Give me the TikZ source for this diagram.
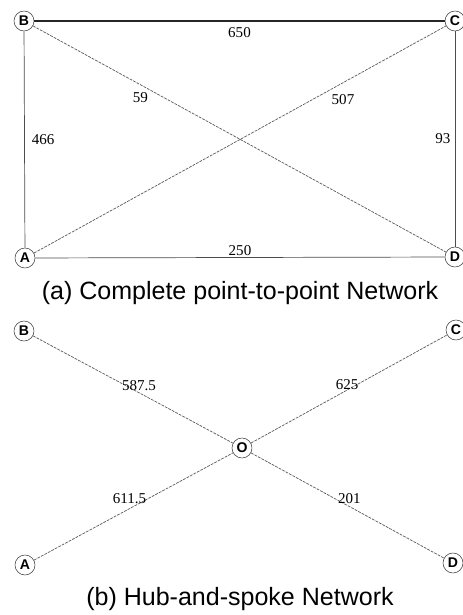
\documentclass[tikz,border=0pt]{standalone}
\usepackage{fontspec}
\setmainfont{Liberation Serif}
\newfontfamily\capfont{Liberation Sans}
\usetikzlibrary{positioning}

\begin{document}
\begin{tikzpicture}[
    x=0.025cm, y=-0.025cm,
    city/.style={circle, draw=black!75, thin, minimum size=0.5cm, inner sep=0pt,
                 fill=white, font=\capfont\bfseries\fontsize{10}{10}\selectfont},
    road/.style={draw=black!70, line width=0.5pt},
    mainroad/.style={draw=black!85, line width=0.9pt},
    air/.style={draw=black!65, line width=0.5pt, dash pattern=on 2pt off 0.8pt},
    dist/.style={font=\fontsize{10.7}{11}\selectfont, inner sep=2pt},
    caption/.style={anchor=base, font=\capfont\fontsize{17.8}{20}\selectfont},
]
\useasboundingbox (0,0) rectangle (462,615);
% (a) every city linked to every other one
\begin{scope}
  \node[city] (B) at (24,21)  {B};
  \node[city] (C) at (455,21) {C};
  \node[city] (A) at (25,258) {A};
  \node[city] (D) at (455,257) {D};
  \draw[mainroad] (B) -- (C) node[dist, midway, below=2pt] {650};
  \draw[road] (B) -- (A) node[dist, midway, right=3pt] {466};
  \draw[road] (C) -- (D) node[dist, midway, left=1pt] {93};
  \draw[road] (A) -- (D) node[dist, midway, above=-1pt] {250};
  \draw[air] (B) -- (D) node[dist, pos=0.26, below=3pt] {59};
  \draw[air] (A) -- (C) node[dist, pos=0.75, below=6pt] {507};
  \node[caption] (capa) at (240,300) {(a) Complete point-to-point Network};
\end{scope}
% (b) all traffic through the hub O
\begin{scope}
  \node[city] (O)  at (242,448) {O};
  \node[city] (B2) at (24,331)  {B};
  \node[city] (C2) at (456,330) {C};
  \node[city] (A2) at (25,565)  {A};
  \node[city] (D2) at (453,563) {D};
  \draw[air] (B2) -- (O) node[dist, pos=0.53, above=-1pt] {587.5};
  \draw[air] (O) -- (C2) node[dist, pos=0.49, above=-2pt] {625};
  \draw[air] (A2) -- (O) node[dist, pos=0.48, above=1pt] {611.5};
  \draw[air] (O) -- (D2) node[dist, pos=0.51, above=0pt] {201};
  \node[caption] (capb) at (240,605) {(b) Hub-and-spoke Network};
\end{scope}
\end{tikzpicture}
\end{document}
